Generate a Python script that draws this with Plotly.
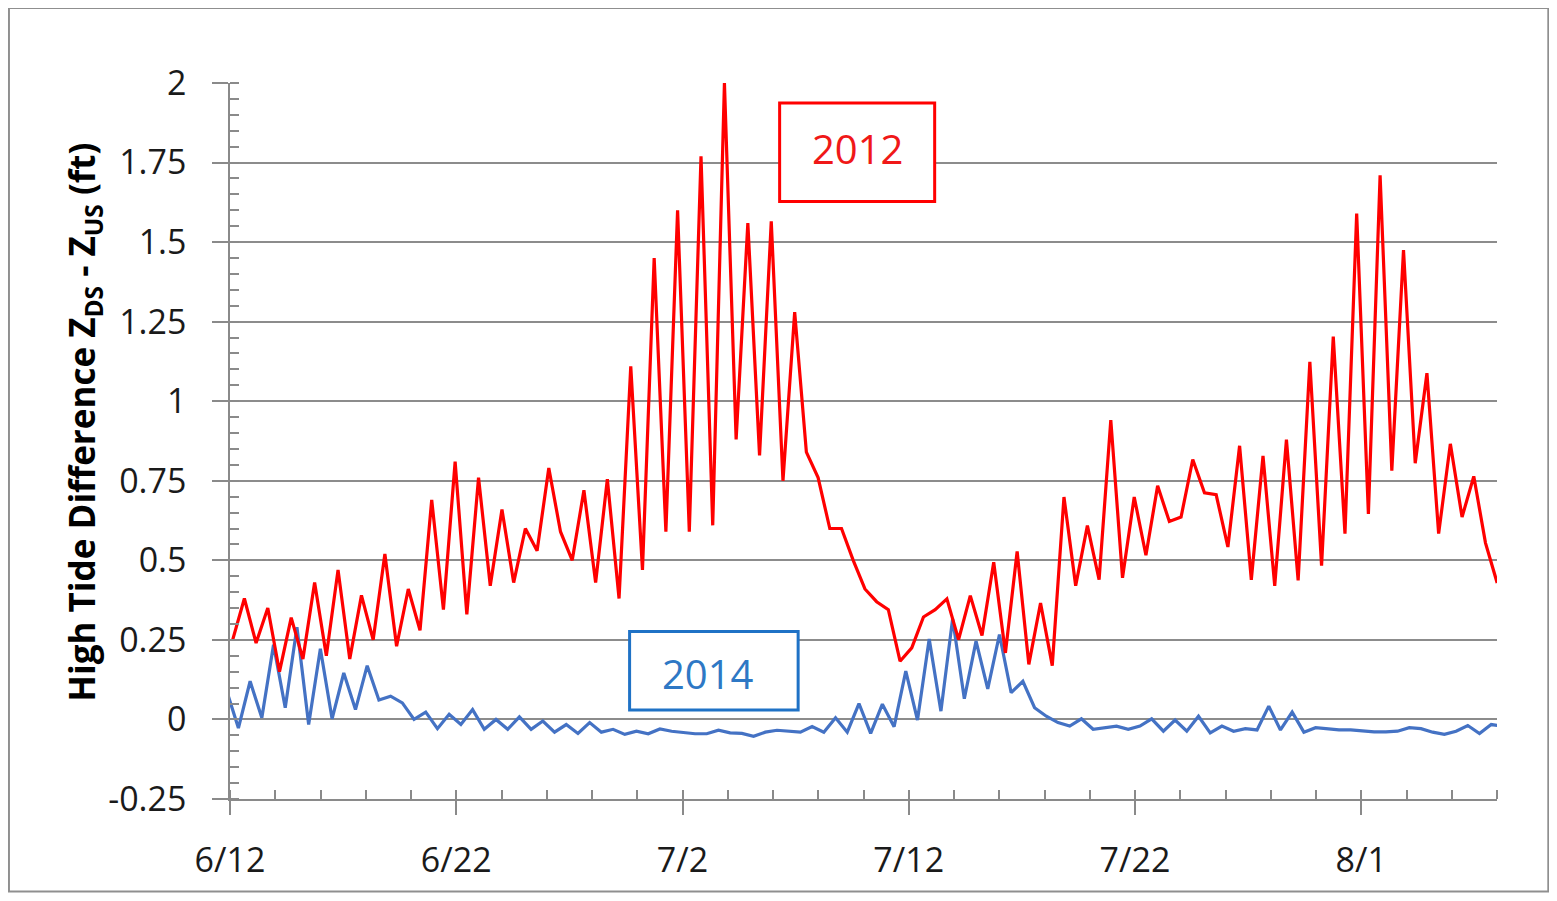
import pandas as pd
import plotly.graph_objects as go

# ---------------- data ----------------
red_2012 = [
    0.25, 0.38, 0.24, 0.35, 0.15, 0.32, 0.19, 0.43, 0.20, 0.47,
    0.19, 0.39, 0.25, 0.52, 0.23, 0.41, 0.28, 0.69, 0.345, 0.81,
    0.33, 0.76, 0.42, 0.66, 0.43, 0.60, 0.53, 0.79, 0.59, 0.50,
    0.72, 0.43, 0.755, 0.38, 1.11, 0.47, 1.45, 0.59, 1.60, 0.59,
    1.77, 0.61, 2.00, 0.88, 1.56, 0.83, 1.565, 0.75, 1.28, 0.84,
    0.76, 0.60, 0.60, 0.50, 0.41, 0.37, 0.345, 0.183, 0.225, 0.322,
    0.345, 0.379, 0.251, 0.389, 0.264, 0.494, 0.209, 0.528, 0.173, 0.366,
    0.169, 0.699, 0.42, 0.609, 0.439, 0.941, 0.445, 0.699, 0.516, 0.734,
    0.622, 0.636, 0.817, 0.712, 0.706, 0.542, 0.86, 0.439, 0.828, 0.42,
    0.879, 0.437, 1.124, 0.483, 1.203, 0.584, 1.59, 0.646, 1.71, 0.782,
    1.475, 0.805, 1.088, 0.584, 0.866, 0.636, 0.764, 0.555, 0.429,
]

blue_2014 = [
    0.09, -0.027, 0.12, 0.005, 0.235, 0.037, 0.29, -0.016, 0.222, 0.002,
    0.146, 0.031, 0.169, 0.061, 0.073, 0.052, 0.0, 0.023, -0.029, 0.016,
    -0.016, 0.031, -0.031, 0.0, -0.031, 0.008, -0.031, -0.005, -0.04, -0.016,
    -0.044, -0.01, -0.04, -0.031, -0.047, -0.037, -0.045, -0.03, -0.037, -0.042,
    -0.045, -0.045, -0.034, -0.042, -0.044, -0.053, -0.04, -0.034, -0.037, -0.04,
    -0.022, -0.04, 0.005, -0.04, 0.05, -0.044, 0.048, -0.023, 0.152, -0.002,
    0.253, 0.026, 0.316, 0.065, 0.246, 0.096, 0.267, 0.084, 0.12, 0.037,
    0.01, -0.01, -0.021, 0.002, -0.031, -0.026, -0.021, -0.031, -0.021, 0.002,
    -0.037, -0.002, -0.037, 0.01, -0.042, -0.021, -0.037, -0.029, -0.033, 0.042,
    -0.033, 0.023, -0.04, -0.026, -0.029, -0.033, -0.033, -0.037, -0.039, -0.039,
    -0.037, -0.026, -0.029, -0.04, -0.047, -0.037, -0.019, -0.044, -0.016, -0.021,
]

# sampling: one value per high tide (12.42 h), seasonal dates overlaid on one axis
RED_START = pd.Timestamp("2012-06-12 02:50")
BLUE_START = pd.Timestamp("2012-06-11 20:30")
TIDE_STEP = pd.Timedelta(hours=12.42)

y_tick_vals = [-0.25, 0, 0.25, 0.5, 0.75, 1, 1.25, 1.5, 1.75, 2]
y_tick_text = ["-0.25", "0", "0.25", "0.5", "0.75", "1", "1.25", "1.5", "1.75", "2"]
x_start, x_end = "2012-06-12", "2012-08-07"

red_x = [RED_START + i * TIDE_STEP for i in range(len(red_2012))]
blue_x = [BLUE_START + i * TIDE_STEP for i in range(len(blue_2014))]

# ---------------- layout geometry (page pixels) ----------------
FIG_W, FIG_H = 1541, 885
PAGE_OFF = 8
PLOT_L, PLOT_R, PLOT_T, PLOT_B = 230, 1496.7, 83, 799.5
PW = PLOT_R - PLOT_L
PH = PLOT_B - PLOT_T


def px(x):
    return (x - PLOT_L) / PW


def py(y):
    return (PLOT_B - y) / PH


FONT = "Open Sans"
DAY_MS = 86400000

fig = go.Figure()
fig.add_trace(go.Scatter(x=blue_x, y=blue_2014, mode="lines", name="2014",
                         line=dict(color="#4472C4", width=3.2)))
fig.add_trace(go.Scatter(x=red_x, y=red_2012, mode="lines", name="2012",
                         line=dict(color="#FF0000", width=3.2)))

axis_col = "#8a8a8a"
fig.update_layout(
    width=FIG_W, height=FIG_H,
    margin=dict(l=PLOT_L - PAGE_OFF, r=FIG_W - (PLOT_R - PAGE_OFF),
                t=PLOT_T - PAGE_OFF, b=FIG_H - (PLOT_B - PAGE_OFF), pad=0),
    paper_bgcolor="white", plot_bgcolor="white",
    showlegend=False,
    font=dict(family=FONT, color="#1a1a1a"),
    xaxis=dict(
        type="date", range=[x_start, x_end],
        tick0=x_start, dtick=10 * DAY_MS, tickformat="%-m/%-d",
        showgrid=False, zeroline=False,
        showline=True, linecolor=axis_col, linewidth=1.5,
        ticks="outside", ticklen=14, tickwidth=1.5, tickcolor=axis_col,
        tickfont=dict(family=FONT, size=34, color="#1a1a1a"),
        ticklabelstandoff=16,
        minor=dict(ticks="inside", ticklen=9, tickwidth=1.5, tickcolor=axis_col,
                   tick0=x_start, dtick=2 * DAY_MS, showgrid=False),
    ),
    yaxis=dict(
        range=[-0.25, 2],
        tickmode="array", tickvals=y_tick_vals, ticktext=y_tick_text,
        showgrid=True, gridcolor="#8c8c8c", gridwidth=1.5,
        zeroline=False,
        showline=True, linecolor=axis_col, linewidth=1.5,
        ticks="outside", ticklen=16, tickwidth=1.5, tickcolor=axis_col,
        tickfont=dict(family=FONT, size=34, color="#1a1a1a"),
        ticklabelstandoff=19,
        minor=dict(ticks="inside", ticklen=9, tickwidth=1.5, tickcolor=axis_col,
                   dtick=0.05, tick0=0, showgrid=False),
    ),
)

# y axis title
fig.add_annotation(
    xref="paper", yref="paper", x=px(84), y=py(422),
    xanchor="center", yanchor="middle", textangle=-90, showarrow=False,
    text="<b>High Tide Difference Z<sub>DS</sub> - Z<sub>US</sub> (ft)</b>",
    font=dict(family=FONT, size=35, color="#000000"),
)

# label boxes
fig.add_shape(type="rect", xref="paper", yref="paper",
              x0=px(779.5), x1=px(934.5), y0=py(201.5), y1=py(103),
              line=dict(color="#FF0000", width=3), fillcolor="white", layer="above")
fig.add_annotation(xref="paper", yref="paper", x=px(857), y=py(149),
                   xanchor="center", yanchor="middle", showarrow=False,
                   text="2012", font=dict(family=FONT, size=40, color="#F01818"))

fig.add_shape(type="rect", xref="paper", yref="paper",
              x0=px(629.5), x1=px(798), y0=py(710.5), y1=py(632),
              line=dict(color="#1F72C6", width=3), fillcolor="white", layer="above")
fig.add_annotation(xref="paper", yref="paper", x=px(707.5), y=py(674),
                   xanchor="center", yanchor="middle", showarrow=False,
                   text="2014", font=dict(family=FONT, size=40, color="#2E78C5"))

# outer frame
fig.add_shape(type="rect", xref="paper", yref="paper",
              x0=px(9), x1=px(1548), y0=py(892), y1=py(8),
              line=dict(color="#8f8f8f", width=2), fillcolor="rgba(0,0,0,0)", layer="above")

fig.write_html("out.html")
